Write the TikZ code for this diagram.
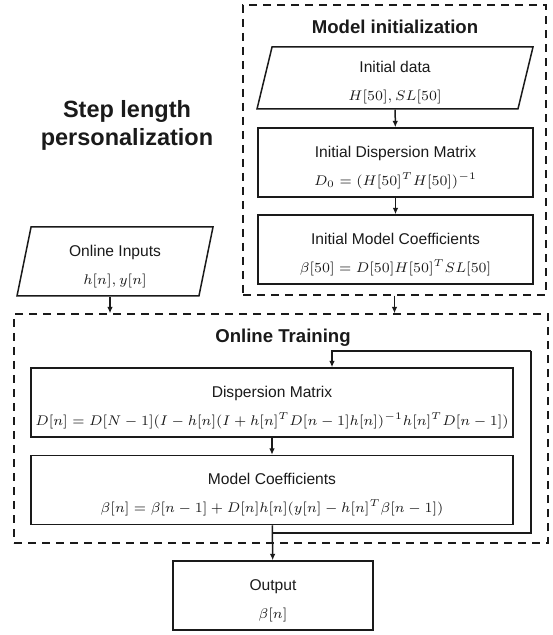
\documentclass[tikz,border=0pt]{standalone}
\usepackage[no-math]{fontspec}
\setsansfont{Liberation Sans}
\usetikzlibrary{arrows.meta,shapes.geometric}
\definecolor{flowink}{HTML}{1A1A1A}
\newcommand{\steptext}[2]{\rule{0pt}{10.5pt}#1\\{\fontsize{7.3}{14}\selectfont$#2$}}
\tikzset{
  stepbox/.style={draw=flowink,line width=0.75pt,minimum height=34.5pt,
    inner sep=0pt,align=center,text=flowink,
    font=\sffamily\fontsize{7.8}{14}\selectfont},
  databox/.style={stepbox,trapezium,trapezium stretches body,
    trapezium left angle=#1,trapezium right angle=180-#1},
  groupframe/.style={draw=flowink,line width=0.7pt,dash pattern=on 4pt off 3pt,
    inner sep=0pt},
  grouptitle/.style={text=flowink,font=\sffamily\bfseries\fontsize{9.3}{11}\selectfont},
  flow/.style={draw=flowink,line width=0.75pt,-{Latex[length=3.2pt,width=2.8pt]}},
  loopline/.style={draw=flowink,line width=0.9pt}
}
\begin{document}
\begin{tikzpicture}[x=0.5pt,y=-0.5pt]
  \useasboundingbox (0,0) rectangle (552,635);
  \node[groupframe,minimum width=151.5pt,minimum height=145pt] (initgroup) at (394.5,150) {};
  \node[groupframe,minimum width=267pt,minimum height=114.5pt] (traingroup) at (281,428.5) {};
  \node[grouptitle] (inittitle) at (395,27) {Model initialization};
  \node[grouptitle] (traintitle) at (283,338) {Online Training};
  \node[text=flowink,align=center,font=\sffamily\bfseries\fontsize{11.75}{14}\selectfont]
    (steptitle) at (127,125) {Step length\\personalization};

  \node[databox=74,minimum width=138pt,minimum height=31pt] (initdata) at (395,78)
    {\steptext{Initial data}{H[50], SL[50]}};
  \node[stepbox,minimum width=137.5pt] (initdisp) at (395.5,162.5)
    {\steptext{Initial Dispersion Matrix}{D_0=(H[50]^TH[50])^{-1}}};
  \node[stepbox,minimum width=137.5pt] (initcoef) at (395.5,249.5)
    {\steptext{Initial Model Coefficients}{\beta[50]=D[50]H[50]^TSL[50]}};
  \node[databox=75,minimum width=98pt] (inputs) at (115,261.5)
    {\steptext{Online Inputs}{h[n], y[n]}};
  \node[stepbox,minimum width=241pt] (disp) at (272,402.5)
    {\steptext{Dispersion Matrix}{D[n]=D[N-1](I-h[n](I+h[n]^TD[n-1]h[n])^{-1}h[n]^TD[n-1])}};
  \node[stepbox,minimum width=241pt] (mcoef) at (272,490)
    {\steptext{Model Coefficients}{\beta[n]=\beta[n-1]+D[n]h[n](y[n]-h[n]^T\beta[n-1])}};
  \node[stepbox,minimum width=100pt] (output) at (273,595.5)
    {\steptext{Output}{\beta[n]}};

  \draw[flow] (initdata) -- (initdisp);
  \draw[flow] (initdisp) -- (initcoef);
  \draw[flow] ([xshift=-2.5pt]inputs.south) -- ([xshift=-2.5pt]inputs.south |- traingroup.north);
  \draw[flow] (initgroup.south) -- (initgroup.south |- traingroup.north);
  \draw[flow] (disp) -- (mcoef);
  \draw[flow] (mcoef) -- (output);
  \coordinate (loopturn) at (531,351);
  \draw[loopline] (mcoef.south) ++(0,8) -| (loopturn);
  \draw[loopline,flow] (loopturn) -| ([xshift=30pt]disp.north);
\end{tikzpicture}
\end{document}
